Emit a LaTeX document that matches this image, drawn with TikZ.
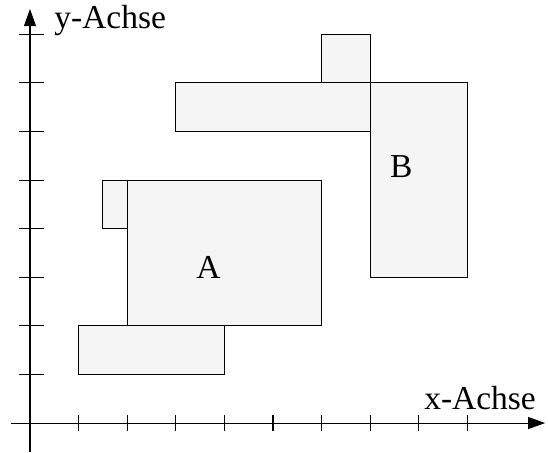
\documentclass[tikz,border=0pt]{standalone}
\usepackage{fontspec}
\setmainfont{Liberation Serif}
\usetikzlibrary{arrows.meta}
\begin{document}
\begin{tikzpicture}[x=1cm,y=1cm,
  box/.style={draw=black, fill=gray!8, line width=0.6pt},
  axis/.style={line width=0.6pt, -{Triangle[length=10pt,width=7pt]}},
  tick/.style={line width=0.6pt},
  lbl/.style={font=\fontsize{19.6}{23}\selectfont, inner sep=0pt}]
\useasboundingbox (-0.617,-0.597) rectangle (10.658,8.704);
% rectangles
\draw[box] (1,1) rectangle (4,2);
\draw[box] (2,2) rectangle (6,5);
\draw[box] (1.5,4) rectangle (2,5);
\draw[box] (3,6) rectangle (7,7);
\draw[box] (6,7) rectangle (7,8);
\draw[box] (7,3) rectangle (9,7);
% axes
\coordinate (xs) at (-0.39,0);
\coordinate (xe) at (10.6,0);
\coordinate (ys) at (0,-0.6);
\coordinate (ye) at (0,8.52);
\draw[axis] (xs) -- (xe);
\draw[axis] (ys) -- (ye);
\foreach \i in {1,...,9} \draw[tick] (\i,-0.165) -- (\i,0.165);
\foreach \j in {1,...,8} \draw[tick] (-0.22,\j) -- (0.29,\j);
% labels
\node[lbl] (A) at (3.67,3.2) {A};
\node[lbl] (B) at (7.64,5.27) {B};
\node[lbl] (xl) at (9.26,0.51) {x-Achse};
\node[lbl] (yl) at (1.65,8.29) {y-Achse};
\end{tikzpicture}
\end{document}
